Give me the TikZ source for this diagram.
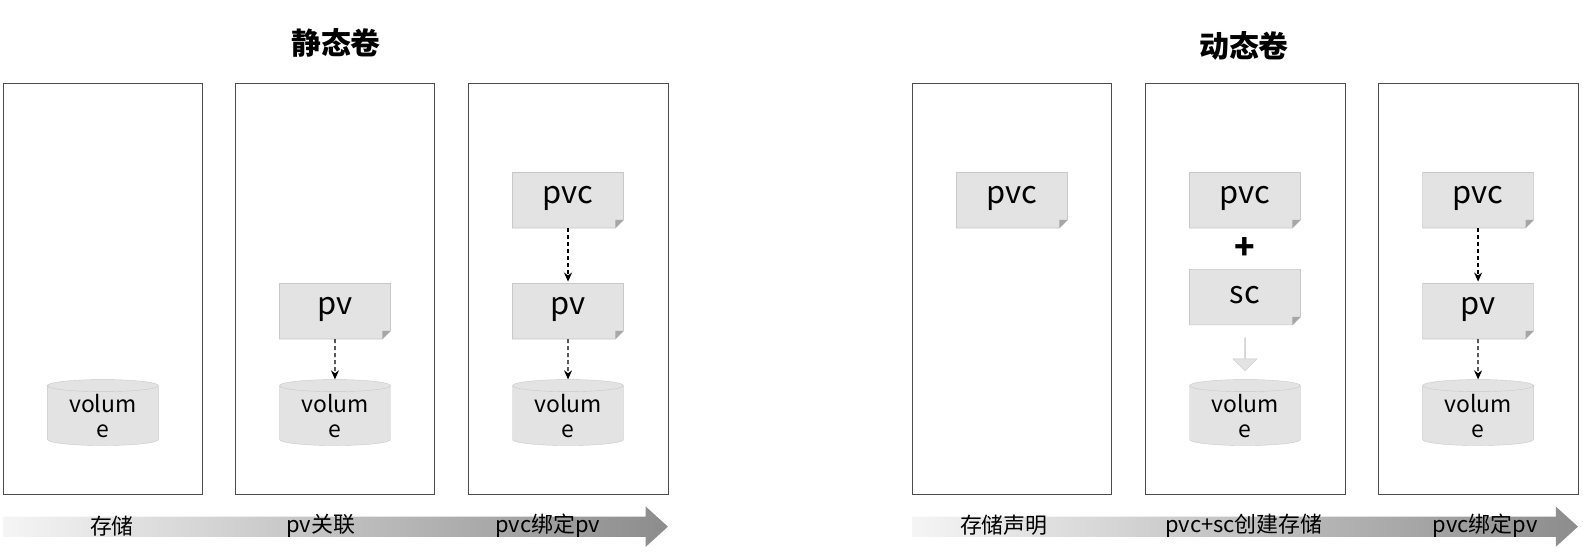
\documentclass[tikz,border=0pt]{standalone}
\usepackage{fontspec}
\setmainfont{Noto Sans CJK SC}
\usetikzlibrary{arrows.meta,shapes.geometric,shapes.arrows}
\definecolor{boxfill}{HTML}{E3E3E3}
\definecolor{boxline}{HTML}{C8C8C8}
\tikzset{x=1.009bp,y=-1.009bp,
panel/.style={draw=black!70,line width=0.8bp},
doc/.style={minimum width=110bp,minimum height=55bp,inner sep=0pt,font=\fontsize{31}{33}\selectfont},
vol/.style={cylinder,shape border rotate=90,aspect=0.18,draw=boxline,fill=boxfill,minimum width=111bp,minimum height=66bp,inner sep=0pt,align=center,font=\fontsize{23}{25}\selectfont},
dasharr/.style={dash pattern=on 4bp off 3bp,-{Stealth[length=9bp,width=8bp]},line width=1.2bp},
lbl/.style={font=\fontsize{22}{24}\selectfont},
ttl/.style={font=\bfseries\fontsize{30}{32}\selectfont}}
\newcommand{\docbox}[4]{% name, cx, cy, text
\fill[boxfill,draw=boxline,line width=0.6bp] (#2-55,#3-27.5) -- (#2+55,#3-27.5) -- (#2+55,#3+19.5) -- (#2+47,#3+27.5) -- (#2-55,#3+27.5) -- cycle;
\fill[black!35] (#2+55,#3+19.5) -- (#2+47,#3+27.5) -- (#2+47,#3+19.5) -- cycle;
\node[doc] (#1) at (#2,#3-2) {#4};}
\begin{document}
\begin{tikzpicture}
\useasboundingbox (0,0) rectangle (1569,553);
\node[ttl] (t1) at (333,43) {静态卷};
\node[ttl] (t2) at (1233,46) {动态卷};
\foreach \x in {3,233,464,904,1135,1366} \draw[panel] (\x,83) rectangle (\x+198,490);
% static
\node[vol] (v1) at (102,412) {volum\\e};
\docbox{pv1}{332}{308.5}{pv}
\node[vol] (v2) at (332,412) {volum\\e};
\draw[dasharr] (332,336) -- (v2.north);
\docbox{pvc1}{563}{198.5}{pvc}
\docbox{pv2}{563}{308.5}{pv}
\node[vol] (v3) at (563,412) {volum\\e};
\draw[dasharr] (563,226) -- (pv2.north);
\draw[dasharr] (563,336) -- (v3.north);
% dynamic
\docbox{pvc2}{1003}{198.5}{pvc}
\docbox{pvc3}{1234}{198.5}{pvc}
\node[font=\bfseries\fontsize{34}{36}\selectfont] (plus) at (1234,246) {+};
\docbox{sc}{1234}{294.5}{sc}
\node[single arrow,shape border rotate=270,fill=boxfill,draw=boxline,minimum height=33bp,minimum width=24bp,single arrow head extend=4bp,inner sep=0pt] (ba) at (1234,351) {};
\node[vol] (v4) at (1234,412) {volum\\e};
\docbox{pvc4}{1465}{198.5}{pvc}
\docbox{pv3}{1465}{308.5}{pv}
\node[vol] (v5) at (1465,412) {volum\\e};
\draw[dasharr] (1465,226) -- (pv3.north);
\draw[dasharr] (1465,336) -- (v5.north);
% bottom arrows
\shade[left color=black!4,right color=black!45] (3,512) -- (640,512) -- (640,502) -- (662,522) -- (640,542) -- (640,532) -- (3,532) -- cycle;
\shade[left color=black!4,right color=black!45] (904,512) -- (1542,512) -- (1542,502) -- (1564,522) -- (1542,542) -- (1542,532) -- (904,532) -- cycle;
\node[lbl] (a1) at (111,521) {存储};
\node[lbl] (a2) at (318,521) {pv关联};
\node[lbl] (a3) at (543,521) {pvc绑定pv};
\node[lbl] (b1) at (995,521) {存储声明};
\node[lbl] (b2) at (1233,521) {pvc+sc创建存储};
\node[lbl] (b3) at (1472,521) {pvc绑定pv};
\end{tikzpicture}
\end{document}
